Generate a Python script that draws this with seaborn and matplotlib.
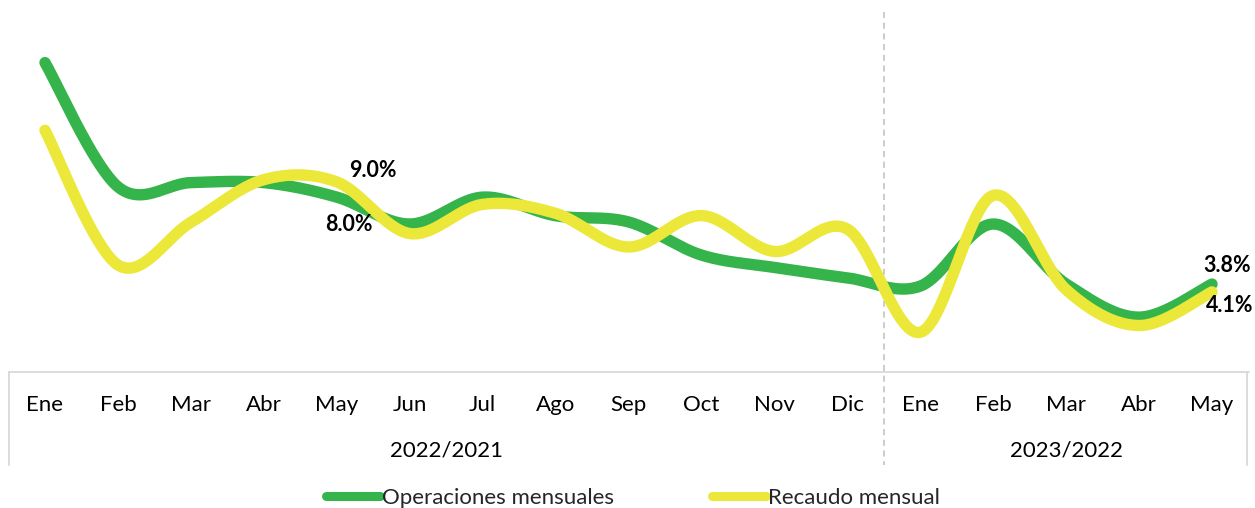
import numpy as np
import pandas as pd
import matplotlib
matplotlib.use("Agg")
import matplotlib.pyplot as plt
import matplotlib.transforms as mtransforms
from matplotlib.lines import Line2D
import seaborn as sns

# Month categories (two periods) and the two monthly growth series (%)
meses = ["Ene", "Feb", "Mar", "Abr", "May", "Jun", "Jul", "Ago", "Sep", "Oct", "Nov", "Dic",
         "Ene", "Feb", "Mar", "Abr", "May"]
periodos = ["2022/2021", "2023/2022"]
meses_por_periodo = [12, 5]
operaciones = [14.5, 8.5, 8.7, 8.7, 8.0, 6.7, 8.0, 7.1, 6.8, 5.2, 4.6, 4.1,
               3.7, 6.7, 3.8, 2.2, 3.8]
recaudo = [11.3, 5.3, 7.2, 9.1, 9.0, 6.7, 8.0, 7.6, 6.1, 7.5, 5.9, 6.9,
           2.3, 8.4, 4.2, 2.6, 4.1]
serie_nombres = ["Operaciones mensuales", "Recaudo mensual"]
# point indices that carry a value label
etiquetas_op = [4, 16]
etiquetas_rec = [4, 16]

VERDE = "#34B44A"
AMARILLO = "#EBE83A"


def suavizar(valores, pasos=40):
    """Piecewise cubic Bezier through every point (Catmull-Rom style tangents)."""
    y = np.asarray(valores, dtype=float)
    x = np.arange(len(y), dtype=float)
    pts = np.column_stack([x, y])
    n = len(pts)
    xs, ys = [], []
    for i in range(n - 1):
        prev = pts[i - 1] if i > 0 else pts[i]
        nxt = pts[i + 2] if i + 2 < n else pts[i + 1]
        p0, p3 = pts[i], pts[i + 1]
        c1 = p0 + (p3 - prev) / 6.0
        c2 = p3 - (nxt - p0) / 6.0
        t = np.linspace(0, 1, pasos, endpoint=(i == n - 2))[:, None]
        curva = ((1 - t) ** 3) * p0 + 3 * ((1 - t) ** 2) * t * c1 + 3 * (1 - t) * t ** 2 * c2 + t ** 3 * p3
        xs.append(curva[:, 0])
        ys.append(curva[:, 1])
    return pd.DataFrame({"x": np.concatenate(xs), "y": np.concatenate(ys)})


sns.set_theme(style="white")
plt.rcParams["font.family"] = ["Lato", "DejaVu Sans"]

W, H = 1255, 508
fig = plt.figure(figsize=(W / 100, H / 100), dpi=100)
ax = fig.add_axes([8.5 / W, 136 / H, 1240 / W, 362 / H])
ax2 = ax.twinx()

sns.lineplot(data=suavizar(operaciones), x="x", y="y", ax=ax, color=VERDE, lw=8.2,
             sort=False, estimator=None, solid_capstyle="round")
sns.lineplot(data=suavizar(recaudo), x="x", y="y", ax=ax2, color=AMARILLO, lw=8.2,
             sort=False, estimator=None, solid_capstyle="round")

ax.set_xlim(-0.5, len(meses) - 0.5)
ax.set_ylim(-0.45, 17.04)
ax2.set_ylim(0.53, 16.66)

for a in (ax, ax2):
    for s in a.spines.values():
        s.set_visible(False)
    a.set_yticks([])
    a.set_ylabel("")
    a.set_xlabel("")
    a.grid(False)
ax2.patch.set_visible(False)

ax.set_xticks(range(len(meses)))
ax.set_xticklabels(meses, fontsize=16, color="black")
ax.tick_params(axis="x", length=0, pad=16.5)

# Category box with period groups underneath the months
trans = mtransforms.blended_transform_factory(ax.transData, ax.transAxes)
caja = dict(transform=trans, color="#D9D9D9", lw=1.3, clip_on=False, zorder=0)
ax.plot([-0.5, len(meses) - 0.5], [0, 0], **caja)
ax.plot([-0.5, -0.5], [0, -0.257], **caja)
ax.plot([len(meses) - 0.52, len(meses) - 0.52], [0, -0.257], **caja)

inicio = 0
for nombre, n in zip(periodos, meses_por_periodo):
    ax.text(inicio + (n - 1) / 2, -0.2155, nombre, transform=trans, ha="center",
            va="center", fontsize=16, color="black")
    if inicio + n < len(meses):
        ax.plot([inicio + n - 0.5] * 2, [0.994, -0.257], transform=trans,
                color="#BFBFBF", lw=1.1, ls=(0, (4, 3)), clip_on=False, zorder=0)
    inicio += n

# Value labels
offsets_op = {4: (9, -19.5), 16: (10.8, 13)}
offsets_rec = {4: (26.3, 8), 16: (12.6, -10)}
for i in etiquetas_op:
    ax2.annotate(f"{operaciones[i]:.1f}%", xy=(i, operaciones[i]), xycoords=ax.transData,
                 xytext=offsets_op[i], textcoords="offset points", ha="center", va="center",
                 fontsize=15.5, fontweight="bold", color="black", annotation_clip=False)
for i in etiquetas_rec:
    ax2.annotate(f"{recaudo[i]:.1f}%", xy=(i, recaudo[i]), xycoords=ax2.transData,
                 xytext=offsets_rec[i], textcoords="offset points", ha="center", va="center",
                 fontsize=15.5, fontweight="bold", color="black", annotation_clip=False)

handles = [Line2D([0], [0], color=VERDE, lw=6.5, solid_capstyle="round"),
           Line2D([0], [0], color=AMARILLO, lw=6.5, solid_capstyle="round")]
fig.legend(handles, serie_nombres, loc="center", bbox_to_anchor=(633 / W, 10 / H),
           ncol=2, frameon=False, handlelength=2.45, handletextpad=0.08,
           columnspacing=4.4, fontsize=16)

fig.savefig("out.png", dpi=100)
